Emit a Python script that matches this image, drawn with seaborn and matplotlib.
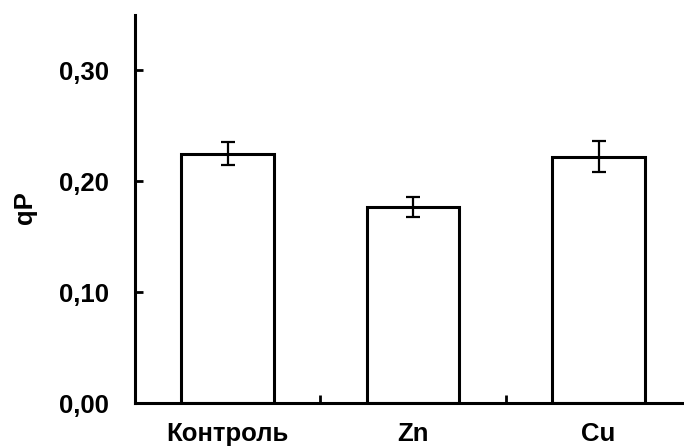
import pandas as pd
import seaborn as sns
import matplotlib.pyplot as plt

# values
groups = ['Контроль', 'Zn', 'Cu']
qp_mean = [0.225, 0.177, 0.222]
qp_err = [0.010, 0.009, 0.014]
ytick_vals = [0.0, 0.1, 0.2, 0.3]
ytick_labels = ['0,00', '0,10', '0,20', '0,30']

df = pd.DataFrame({'group': groups, 'qP': qp_mean})

sns.set_theme(style="white")
plt.rcParams['font.family'] = ['Liberation Sans', 'DejaVu Sans']
plt.rcParams['font.weight'] = 'bold'

fig = plt.figure(figsize=(6.84, 4.48), dpi=100)
ax = fig.add_axes([0.1974, 0.1004, 0.8026, 0.8661])

sns.barplot(data=df, x='group', y='qP', color='white', edgecolor='black',
            linewidth=2.2, width=0.5, errorbar=None, ax=ax)
ax.errorbar(range(len(groups)), qp_mean, yerr=qp_err, fmt='none',
            ecolor='black', elinewidth=1.6, capsize=5, capthick=1.6, zorder=5)

ax.set_xlim(-0.5, 2.461)
ax.set_ylim(0, 0.35)
ax.set_yticks(ytick_vals)
ax.set_yticklabels(ytick_labels)
ax.set_xticks([0.5, 1.5], minor=True)

sns.despine(ax=ax)
for side in ['left', 'bottom']:
    ax.spines[side].set_linewidth(2.2)
    ax.spines[side].set_color('black')

ax.tick_params(axis='y', which='major', direction='in', length=6, width=2,
               pad=19, labelsize=18.5, colors='black', left=True)
ax.tick_params(axis='x', which='major', length=0, pad=14, labelsize=18.5,
               colors='black')
ax.tick_params(axis='x', which='minor', direction='in', length=6, width=2,
               bottom=True, colors='black')
for lab in ax.get_xticklabels() + ax.get_yticklabels():
    lab.set_fontweight('bold')

ax.set_xlabel('')
ax.set_ylabel('qP', fontsize=18.5, fontweight='bold', color='black')
ax.yaxis.set_label_coords(-0.178, 0.505)

fig.savefig('out.png', dpi=100)
